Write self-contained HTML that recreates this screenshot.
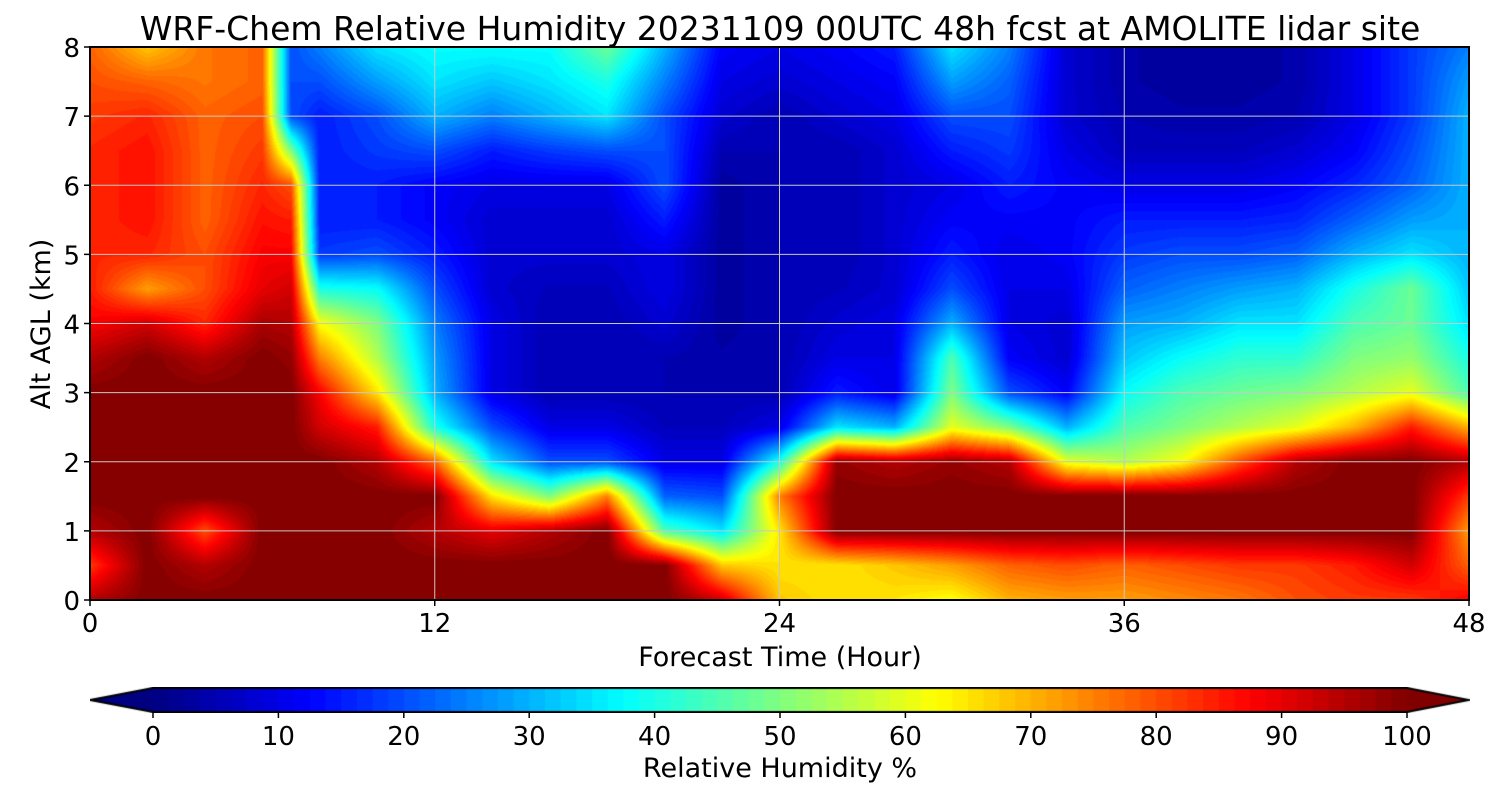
<!DOCTYPE html>
<html><head><meta charset="utf-8"><style>
body{margin:0;background:#fff;width:1500px;height:800px;position:relative;overflow:hidden;font-family:"Liberation Sans","DejaVu Sans",sans-serif}
canvas{position:absolute}
svg{position:absolute;left:0;top:0}
text{font-family:"DejaVu Sans","Liberation Sans",sans-serif;fill:#000}
</style></head><body>
<canvas id="heat" width="1379" height="553" style="left:90px;top:47px"></canvas>
<canvas id="cbar" width="1380" height="26" style="left:90px;top:687px"></canvas>
<svg id="ov" width="1500" height="800"></svg>
<script>
const hours=[0,2,4,6,7,8,10,12,14,16,18,20,22,24,26,28,30,32,34,36,38,40,42,44,46,48];
const alts=[0,0.5,1,1.5,2,2.5,3,3.5,4,4.5,5,5.5,6,6.5,7,7.5,8];
const rh=[
[95,82,95,100,100,100,100,95,88,85,84,84,84,84,82,80,78],
[100,100,100,100,100,100,100,100,92,72,84,86,86,86,84,78,68],
[100,95,80,100,100,100,100,95,84,80,80,78,78,78,78,76,76],
[100,100,100,100,100,100,100,100,96,90,88,86,84,82,80,78,78],
[100,100,100,100,100,100,100,98,95,92,88,85,80,50,20,20,20],
[100,100,100,100,100,92,88,75,62,40,18,15,15,15,15,20,25],
[100,100,100,100,95,85,65,55,50,38,20,15,15,18,20,28,35],
[100,100,95,100,78,40,30,28,25,20,15,12,12,20,30,35,38],
[100,100,90,65,35,20,10,10,10,8,8,8,10,15,25,32,38],
[100,100,95,50,20,10,5,5,5,6,8,8,10,18,30,35,38],
[100,100,100,75,20,10,5,5,5,6,8,8,10,20,35,40,48],
[100,100,45,22,10,6,5,5,8,10,10,15,20,20,20,25,30],
[92,68,35,20,10,6,5,4,3,3,3,3,3,5,8,10,12],
[68,65,65,75,40,10,5,5,5,5,5,5,5,5,5,8,10],
[65,65,100,100,98,35,15,10,8,6,5,5,5,5,8,10,12],
[65,68,100,100,95,30,10,10,10,8,8,8,8,8,10,12,15],
[62,72,100,100,98,60,50,45,30,20,15,12,10,15,20,28,35],
[70,78,100,100,95,50,20,12,10,10,10,12,15,18,20,22,25],
[72,80,100,100,60,30,12,8,8,10,12,12,12,10,8,8,8],
[72,78,100,100,55,45,38,32,28,22,18,15,10,6,5,4,4],
[74,80,100,100,62,50,45,38,30,25,20,15,10,6,4,3,3],
[76,82,100,100,80,55,48,42,35,28,20,15,10,6,4,3,3],
[80,82,100,100,95,60,50,42,35,30,22,16,12,8,5,4,4],
[82,85,100,100,100,70,55,50,45,40,30,22,16,12,10,10,10],
[82,92,100,100,100,85,60,52,48,48,35,28,22,20,18,18,18],
[88,78,72,82,95,70,45,40,35,32,30,30,30,30,30,28,25]];
const xTicks=[0,12,24,36,48];
const yTicks=[0,1,2,3,4,5,6,7,8];
const cTicks=[0,10,20,30,40,50,60,70,80,90,100];

const PX=90,PY=47,PW=1379,PH=553;
const xS=h=>PX+h/48*PW, yS=a=>PY+PH-a/8*PH;
function jet(v){let t=Math.max(0,Math.min(1,v));
 const f=x=>Math.max(0,Math.min(1,1.5-Math.abs(x)));
 return [f(4*t-3),f(4*t-2),f(4*t-1)].map(c=>Math.round(c*255));}
function q(v){return Math.floor(Math.max(0,Math.min(99.9,v))/1.25)*1.25/100+0.006;}
function interp(h,a){
 let i=0;while(i<hours.length-2&&h>hours[i+1])i++;
 let j=0;while(j<alts.length-2&&a>alts[j+1])j++;
 const tx=(h-hours[i])/(hours[i+1]-hours[i]),ty=(a-alts[j])/(alts[j+1]-alts[j]);
 const v00=rh[i][j],v10=rh[i+1][j],v01=rh[i][j+1],v11=rh[i+1][j+1];
 return (v00*(1-tx)+v10*tx)*(1-ty)+(v01*(1-tx)+v11*tx)*ty;}
const hc=document.getElementById('heat'),ctx=hc.getContext('2d');
const img=ctx.createImageData(PW,PH);
for(let y=0;y<PH;y++){const a=(PH-y-0.5)/PH*8;for(let x=0;x<PW;x++){const h=(x+0.5)/PW*48;
 const c=jet(q(interp(h,a)));const k=(y*PW+x)*4;img.data[k]=c[0];img.data[k+1]=c[1];img.data[k+2]=c[2];img.data[k+3]=255;}}
ctx.putImageData(img,0,0);
const cb=document.getElementById('cbar'),cc=cb.getContext('2d');
const C0=63,C1=1317,cy=1,chh=24;
for(let l=0;l<80;l++){const c=jet(l*1.25/100+0.006);cc.fillStyle=`rgb(${c})`;
 cc.fillRect(C0+(C1-C0)*l/80,cy,(C1-C0)/80+1,chh);}
cc.fillStyle='rgb(0,0,128)';cc.beginPath();cc.moveTo(C0,cy);cc.lineTo(0,cy+chh/2);cc.lineTo(C0,cy+chh);cc.fill();
cc.fillStyle='rgb(128,0,0)';cc.beginPath();cc.moveTo(C1,cy);cc.lineTo(1379,cy+chh/2);cc.lineTo(C1,cy+chh);cc.fill();
cc.strokeStyle='#000';cc.lineWidth=2;cc.beginPath();cc.moveTo(C0,cy);cc.lineTo(0.5,cy+chh/2);cc.lineTo(C0,cy+chh);cc.lineTo(C1,cy+chh);cc.lineTo(1378.5,cy+chh/2);cc.lineTo(C1,cy);cc.closePath();cc.stroke();

const ov=document.getElementById('ov'),NS='http://www.w3.org/2000/svg';
function el(t,at,txt){const e=document.createElementNS(NS,t);for(const k in at)e.setAttribute(k,at[k]);if(txt!==undefined)e.textContent=txt;ov.appendChild(e);return e;}
xTicks.forEach(h=>{
 const g=el('line',{x1:xS(h),x2:xS(h),y1:PY,y2:PY+PH,stroke:'#c8c8c8','stroke-width':1});
 
 
 el('line',{x1:xS(h),x2:xS(h),y1:PY+PH,y2:PY+PH+6,stroke:'#000','stroke-width':1.5});
 const t=el('text',{x:xS(h),y:632,'font-size':26,'text-anchor':'middle'},h);
 
 
});
yTicks.forEach(a=>{
 const g=el('line',{x1:PX,x2:PX+PW,y1:yS(a),y2:yS(a),stroke:'#c8c8c8','stroke-width':1});
 
 
 el('line',{x1:PX-6,x2:PX,y1:yS(a),y2:yS(a),stroke:'#000','stroke-width':1.5});
 const t=el('text',{x:PX-10,y:yS(a)+10,'font-size':26,'text-anchor':'end'},a);
 
 
});
const fr=el('rect',{x:PX,y:PY,width:PW,height:PH,fill:'none',stroke:'#000','stroke-width':2});


cTicks.forEach(v=>{const x=90+C0+(C1-C0)*v/100;
 el('line',{x1:x,x2:x,y1:712,y2:718,stroke:'#000','stroke-width':1.5});
 const t=el('text',{x:x,y:745,'font-size':26,'text-anchor':'middle'},v);
 
 
});
let t;
t=el('text',{x:780,y:40,'font-size':33,'text-anchor':'middle'},'WRF-Chem Relative Humidity 20231109 00UTC 48h fcst at AMOLITE lidar site');


t=el('text',{x:780,y:666,'font-size':27,'text-anchor':'middle'},'Forecast Time (Hour)');


t=el('text',{x:0,y:0,'font-size':27,'text-anchor':'middle',transform:'translate(50,324) rotate(-90)'},'Alt AGL (km)');


t=el('text',{x:780,y:777,'font-size':27,'text-anchor':'middle'},'Relative Humidity %');


</script>
</body></html>
